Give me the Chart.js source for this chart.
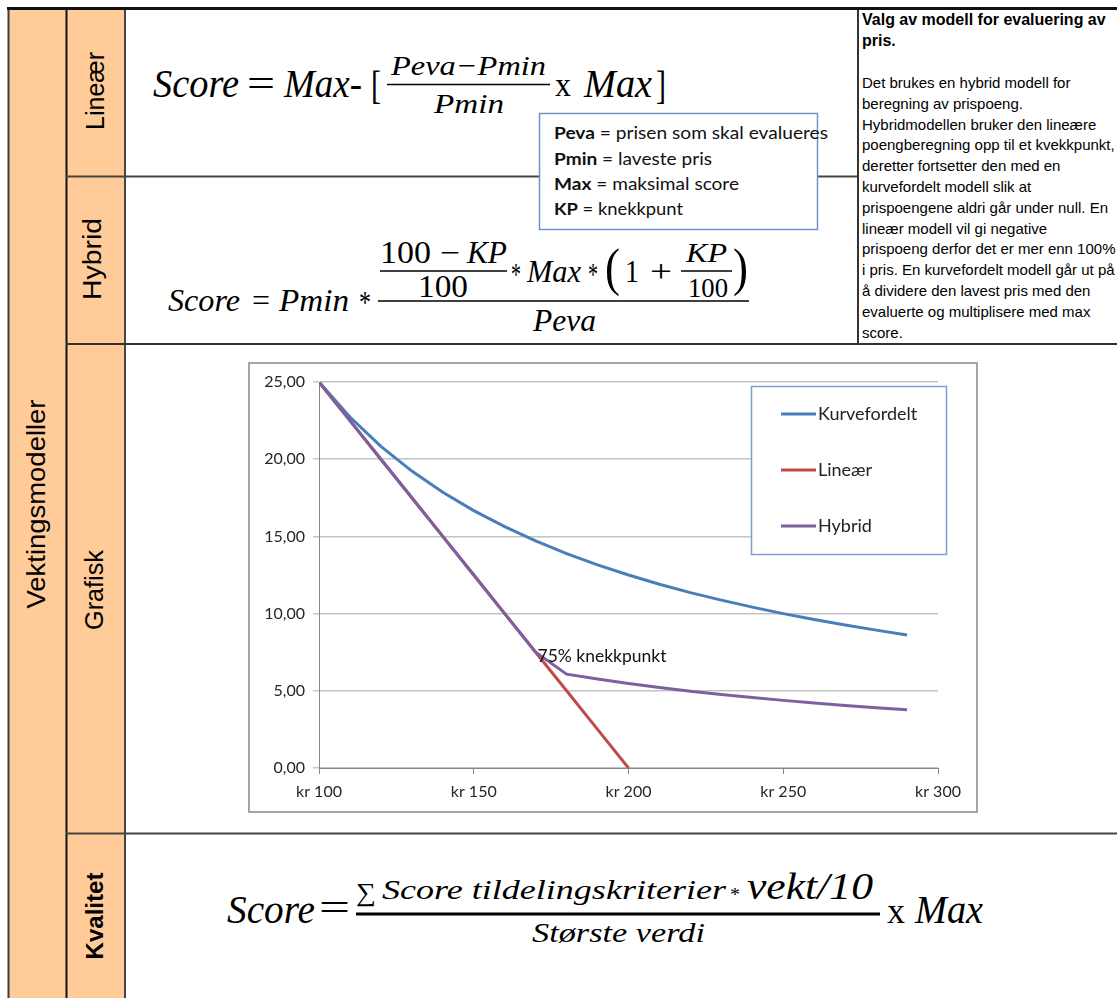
<!DOCTYPE html>
<html><head><meta charset="utf-8">
<script src="https://cdn.jsdelivr.net/npm/chart.js@4"></script>
<style>
html,body{margin:0;padding:0;background:#fff;overflow:hidden}
#page{position:relative;width:1117px;height:998px}
#tbl{position:absolute;left:0;top:0}
#frame{position:absolute;left:248px;top:362px;width:730px;height:451px;box-sizing:border-box;border:2px solid #a6a6a6;background:#fff}
#wrap{position:absolute;left:250px;top:364px;width:726px;height:447px}
.f{font-family:'Liberation Serif','DejaVu Serif',serif;fill:#000}
.i{font-style:italic}
.s{font-family:'Liberation Sans',Arial,sans-serif;fill:#000}
.c{font-family:Lato,'Open Sans',sans-serif;fill:#111}
</style></head>
<body><div id="page">
<svg id="tbl" width="1117" height="998" xmlns="http://www.w3.org/2000/svg">
  <rect x="8" y="8" width="117" height="990" fill="#FFCC99"/>
  <!-- borders -->
  <line x1="8.5" y1="8" x2="8.5" y2="998" stroke="#3a3a3a" stroke-width="2"/>
  <line x1="66.5" y1="8" x2="66.5" y2="998" stroke="#111" stroke-width="2"/>
  <line x1="125" y1="8" x2="125" y2="998" stroke="#444" stroke-width="2"/>
  <line x1="66" y1="176.5" x2="858" y2="176.5" stroke="#444" stroke-width="2"/>
  <line x1="66" y1="344" x2="1117" y2="344" stroke="#333" stroke-width="2"/>
  <line x1="66" y1="833.5" x2="1117" y2="833.5" stroke="#444" stroke-width="2"/>
  <line x1="858" y1="8" x2="858" y2="344" stroke="#333" stroke-width="2"/>
  <line x1="7" y1="8.5" x2="1117" y2="8.5" stroke="#111" stroke-width="3"/>

  <!-- vertical labels -->
  <text class="s" transform="translate(45,504) rotate(-90)" text-anchor="middle" font-size="26" textLength="209" lengthAdjust="spacingAndGlyphs">Vektingsmodeller</text>
  <text class="s" transform="translate(104,91) rotate(-90)" text-anchor="middle" font-size="25" textLength="78" lengthAdjust="spacingAndGlyphs">Lineær</text>
  <text class="s" transform="translate(101,259) rotate(-90)" text-anchor="middle" font-size="25" textLength="82" lengthAdjust="spacingAndGlyphs">Hybrid</text>
  <text class="s" transform="translate(103,590) rotate(-90)" text-anchor="middle" font-size="25" textLength="80" lengthAdjust="spacingAndGlyphs">Grafisk</text>
  <text class="s" transform="translate(103,916) rotate(-90)" text-anchor="middle" font-size="23" font-weight="bold" textLength="87" lengthAdjust="spacingAndGlyphs">Kvalitet</text>

  <!-- Lineær formula -->
  <text class="f i" x="153" y="97" font-size="40" textLength="86" lengthAdjust="spacingAndGlyphs">Score</text>
  <text class="f" x="247" y="97" font-size="40" textLength="28" lengthAdjust="spacingAndGlyphs">=</text>
  <text class="f i" x="284" y="97" font-size="40" textLength="78" lengthAdjust="spacingAndGlyphs">Max-</text>
  <text class="f" x="371" y="99" font-size="40" textLength="10" lengthAdjust="spacingAndGlyphs">[</text>
  <text class="f i" x="391" y="75" font-size="28" textLength="155" lengthAdjust="spacingAndGlyphs">Peva−Pmin</text>
  <line x1="387" y1="84.5" x2="550" y2="84.5" stroke="#000" stroke-width="1.6"/>
  <text class="f i" x="434" y="113" font-size="28" textLength="70" lengthAdjust="spacingAndGlyphs">Pmin</text>
  <text class="f" x="555" y="96" font-size="34" textLength="16" lengthAdjust="spacingAndGlyphs">x</text>
  <text class="f i" x="584" y="97" font-size="40" textLength="68" lengthAdjust="spacingAndGlyphs">Max</text>
  <text class="f" x="656" y="99" font-size="40" textLength="10" lengthAdjust="spacingAndGlyphs">]</text>

  <!-- Hybrid formula -->
  <text class="f i" x="168" y="311" font-size="31" textLength="72" lengthAdjust="spacingAndGlyphs">Score</text>
  <text class="f" x="252" y="311" font-size="31" textLength="18" lengthAdjust="spacingAndGlyphs">=</text>
  <text class="f i" x="279" y="311" font-size="31" textLength="70" lengthAdjust="spacingAndGlyphs">Pmin</text>
  <text class="f" x="359" y="313" font-size="31" textLength="12" lengthAdjust="spacingAndGlyphs">*</text>
  <line x1="378" y1="301" x2="749" y2="301" stroke="#000" stroke-width="1.5"/>
  <text class="f" x="380" y="263" font-size="31" textLength="51" lengthAdjust="spacingAndGlyphs">100</text>
  <text class="f" x="440" y="263" font-size="31" textLength="20" lengthAdjust="spacingAndGlyphs">−</text>
  <text class="f i" x="467" y="263" font-size="31" textLength="40" lengthAdjust="spacingAndGlyphs">KP</text>
  <line x1="380" y1="271" x2="507" y2="271" stroke="#000" stroke-width="1.3"/>
  <text class="f" x="418" y="297" font-size="31" textLength="50" lengthAdjust="spacingAndGlyphs">100</text>
  <text class="f" x="511" y="285" font-size="31" textLength="10" lengthAdjust="spacingAndGlyphs">*</text>
  <text class="f i" x="527" y="282" font-size="31" textLength="54" lengthAdjust="spacingAndGlyphs">Max</text>
  <text class="f" x="588" y="285" font-size="31" textLength="10" lengthAdjust="spacingAndGlyphs">*</text>
  <text class="f" x="605" y="285" font-size="52" textLength="15" lengthAdjust="spacingAndGlyphs">(</text>
  <text class="f" x="625" y="282" font-size="31" textLength="14" lengthAdjust="spacingAndGlyphs">1</text>
  <text class="f" x="650" y="282" font-size="31" textLength="22" lengthAdjust="spacingAndGlyphs">+</text>
  <text class="f i" x="686" y="262" font-size="28" textLength="41" lengthAdjust="spacingAndGlyphs">KP</text>
  <line x1="681" y1="271" x2="732" y2="271" stroke="#000" stroke-width="1.3"/>
  <text class="f" x="688" y="297" font-size="28" textLength="40" lengthAdjust="spacingAndGlyphs">100</text>
  <text class="f" x="733" y="285" font-size="52" textLength="15" lengthAdjust="spacingAndGlyphs">)</text>
  <text class="f i" x="533" y="331" font-size="31" textLength="63" lengthAdjust="spacingAndGlyphs">Peva</text>

  <!-- Kvalitet formula -->
  <text class="f i" x="227" y="923" font-size="40" textLength="88" lengthAdjust="spacingAndGlyphs">Score</text>
  <text class="f" x="319" y="921" font-size="40" textLength="31" lengthAdjust="spacingAndGlyphs">=</text>
  <line x1="356" y1="914" x2="880" y2="914" stroke="#000" stroke-width="3"/>
  <text class="f" x="356" y="901" font-size="26" textLength="20" lengthAdjust="spacingAndGlyphs">∑</text>
  <text class="f i" x="382" y="899" font-size="28" textLength="344" lengthAdjust="spacingAndGlyphs">Score  tildelingskriterier</text>
  <text class="f" x="730" y="901" font-size="18" textLength="10" lengthAdjust="spacingAndGlyphs">*</text>
  <text class="f i" x="747" y="899" font-size="38" textLength="126" lengthAdjust="spacingAndGlyphs">vekt/10</text>
  <text class="f i" x="532" y="942" font-size="27" textLength="173" lengthAdjust="spacingAndGlyphs">Største verdi</text>
  <text class="f" x="887" y="923" font-size="36" textLength="18" lengthAdjust="spacingAndGlyphs">x</text>
  <text class="f i" x="915" y="923" font-size="40" textLength="68" lengthAdjust="spacingAndGlyphs">Max</text>

  <!-- definitions box -->
  <rect x="539.5" y="113.5" width="278" height="116" fill="#fff" stroke="#7092c8" stroke-width="1.5"/>
  <text class="c" x="554" y="139" font-size="17" textLength="274" lengthAdjust="spacingAndGlyphs"><tspan font-weight="bold">Peva</tspan> = prisen som skal evalueres</text>
  <text class="c" x="554" y="165" font-size="17" textLength="158" lengthAdjust="spacingAndGlyphs"><tspan font-weight="bold">Pmin</tspan> = laveste pris</text>
  <text class="c" x="554" y="190" font-size="17" textLength="185" lengthAdjust="spacingAndGlyphs"><tspan font-weight="bold">Max</tspan> = maksimal score</text>
  <text class="c" x="554" y="215" font-size="17" textLength="129" lengthAdjust="spacingAndGlyphs"><tspan font-weight="bold">KP</tspan> = knekkpunt</text>

  <!-- right column text -->
  <g class="s" font-size="15" fill="#1a1a1a">
    <text x="862" y="25" font-weight="bold" font-size="16">Valg av modell for evaluering av</text>
    <text x="862" y="46" font-weight="bold" font-size="16">pris.</text>
    <text x="862" y="88">Det brukes en hybrid modell for</text>
    <text x="862" y="108.8">beregning av prispoeng.</text>
    <text x="862" y="129.6">Hybridmodellen bruker den lineære</text>
    <text x="862" y="150.4">poengberegning opp til et kvekkpunkt,</text>
    <text x="862" y="171.2">deretter fortsetter den med en</text>
    <text x="862" y="192">kurvefordelt modell slik at</text>
    <text x="862" y="212.8">prispoengene aldri går under null. En</text>
    <text x="862" y="233.6">lineær modell vil gi negative</text>
    <text x="862" y="254.4">prispoeng derfor det er mer enn 100%</text>
    <text x="862" y="275.2">i pris. En kurvefordelt modell går ut på</text>
    <text x="862" y="296">å dividere den lavest pris med den</text>
    <text x="862" y="316.8">evaluerte og multiplisere med max</text>
    <text x="862" y="337.6">score.</text>
  </g>
</svg>
<div id="frame"></div>
<div id="wrap"><canvas id="c"></canvas></div>
</div>
<script>
// ---- data ----
const prices = [100,110,120,130,140,150,160,170,180,190,200,210,220,230,240,250,260,270,280,290];
const kurvefordelt = [25.00,22.73,20.83,19.23,17.86,16.67,15.63,14.71,13.89,13.16,12.50,11.90,11.36,10.87,10.42,10.00,9.62,9.26,8.93,8.62];
const linearPrices = [100,110,120,130,140,150,160,170,180,190,200];
const linear = [25.00,22.50,20.00,17.50,15.00,12.50,10.00,7.50,5.00,2.50,0.00];
const hybrid = [25.00,22.50,20.00,17.50,15.00,12.50,10.00,7.50,6.08,5.76,5.47,5.21,4.97,4.76,4.56,4.38,4.21,4.05,3.91,3.77];
const seriesNames = ['Kurvefordelt','Lineær','Hybrid'];
const seriesColors = ['#4A7EBB','#BE4B48','#7D60A0'];
const xTickValues = [100,150,200,250,300];
const yTickValues = [0,5,10,15,20,25];
const currencyPrefix = 'kr ';
const kneeLabel = '75% knekkpunkt';
const kneePrice = 170.6;
const kneeScore = 7.2;

const toXY = (xs, ys) => xs.map((x, i) => ({x: x, y: ys[i]}));

const boxLegend = {
  id: 'boxLegend',
  afterDraw(chart) {
    const {ctx, chartArea} = chart;
    const left = chartArea.right - 187, top = chartArea.top + 4, w = 195, h = 168;
    ctx.save();
    ctx.fillStyle = '#fff';
    ctx.fillRect(left, top, w, h);
    ctx.strokeStyle = '#7f9fd3';
    ctx.lineWidth = 1.5;
    ctx.strokeRect(left + 0.5, top + 0.5, w, h);
    ctx.font = '18px Lato, "Open Sans", sans-serif';
    ctx.textBaseline = 'middle';
    chart.data.datasets.forEach((ds, i) => {
      const yy = top + 28 + i * 56;
      ctx.strokeStyle = ds.borderColor;
      ctx.lineWidth = 3;
      ctx.beginPath(); ctx.moveTo(left + 30, yy); ctx.lineTo(left + 65, yy); ctx.stroke();
      ctx.fillStyle = '#222';
      ctx.fillText(ds.label, left + 67, yy);
    });
    ctx.restore();
  }
};

const kneeNote = {
  id: 'kneeNote',
  afterDatasetsDraw(chart) {
    const {ctx, scales} = chart;
    ctx.save();
    ctx.font = '17.5px Lato, "Open Sans", sans-serif';
    ctx.fillStyle = '#111';
    ctx.textBaseline = 'middle';
    ctx.fillText(kneeLabel, scales.x.getPixelForValue(kneePrice), scales.y.getPixelForValue(kneeScore));
    ctx.restore();
  }
};

const seriesData = [toXY(prices, kurvefordelt), toXY(linearPrices, linear), toXY(prices, hybrid)];
const drawOrder = [2, 1, 0];

new Chart(document.getElementById('c'), {
  type: 'line',
  data: {
    datasets: seriesNames.map((name, i) => ({
      label: name,
      data: seriesData[i],
      borderColor: seriesColors[i],
      backgroundColor: seriesColors[i],
      borderWidth: 3,
      pointRadius: 0,
      tension: 0,
      fill: false,
      order: drawOrder[i]
    }))
  },
  options: {
    responsive: true,
    maintainAspectRatio: false,
    animation: false,
    layout: {padding: {top: 18, right: 38, left: 0, bottom: 0}},
    plugins: {legend: {display: false}, tooltip: {enabled: false}},
    scales: {
      x: {
        type: 'linear',
        min: xTickValues[0], max: xTickValues[xTickValues.length - 1],
        afterBuildTicks(axis) { axis.ticks = xTickValues.map(v => ({value: v})); },
        ticks: {callback: v => currencyPrefix + v, font: {family: 'Lato', size: 16}, color: '#262626', padding: 8, maxRotation: 0, autoSkip: false},
        grid: {drawOnChartArea: false, tickLength: 6, color: '#868686'},
        border: {color: '#868686', width: 1},
        afterFit(axis) { axis.height = 43; }
      },
      y: {
        min: yTickValues[0], max: yTickValues[yTickValues.length - 1],
        afterBuildTicks(axis) { axis.ticks = yTickValues.map(v => ({value: v})); },
        ticks: {callback: v => v.toFixed(2).replace('.', ','), font: {family: 'Lato', size: 16}, color: '#262626', padding: 8},
        grid: {color: '#c4c4c4', lineWidth: 1.5, tickLength: 6},
        border: {color: '#868686', width: 1},
        afterFit(axis) { axis.width = 69; }
      }
    }
  },
  plugins: [boxLegend, kneeNote]
});
</script>
</body></html>
